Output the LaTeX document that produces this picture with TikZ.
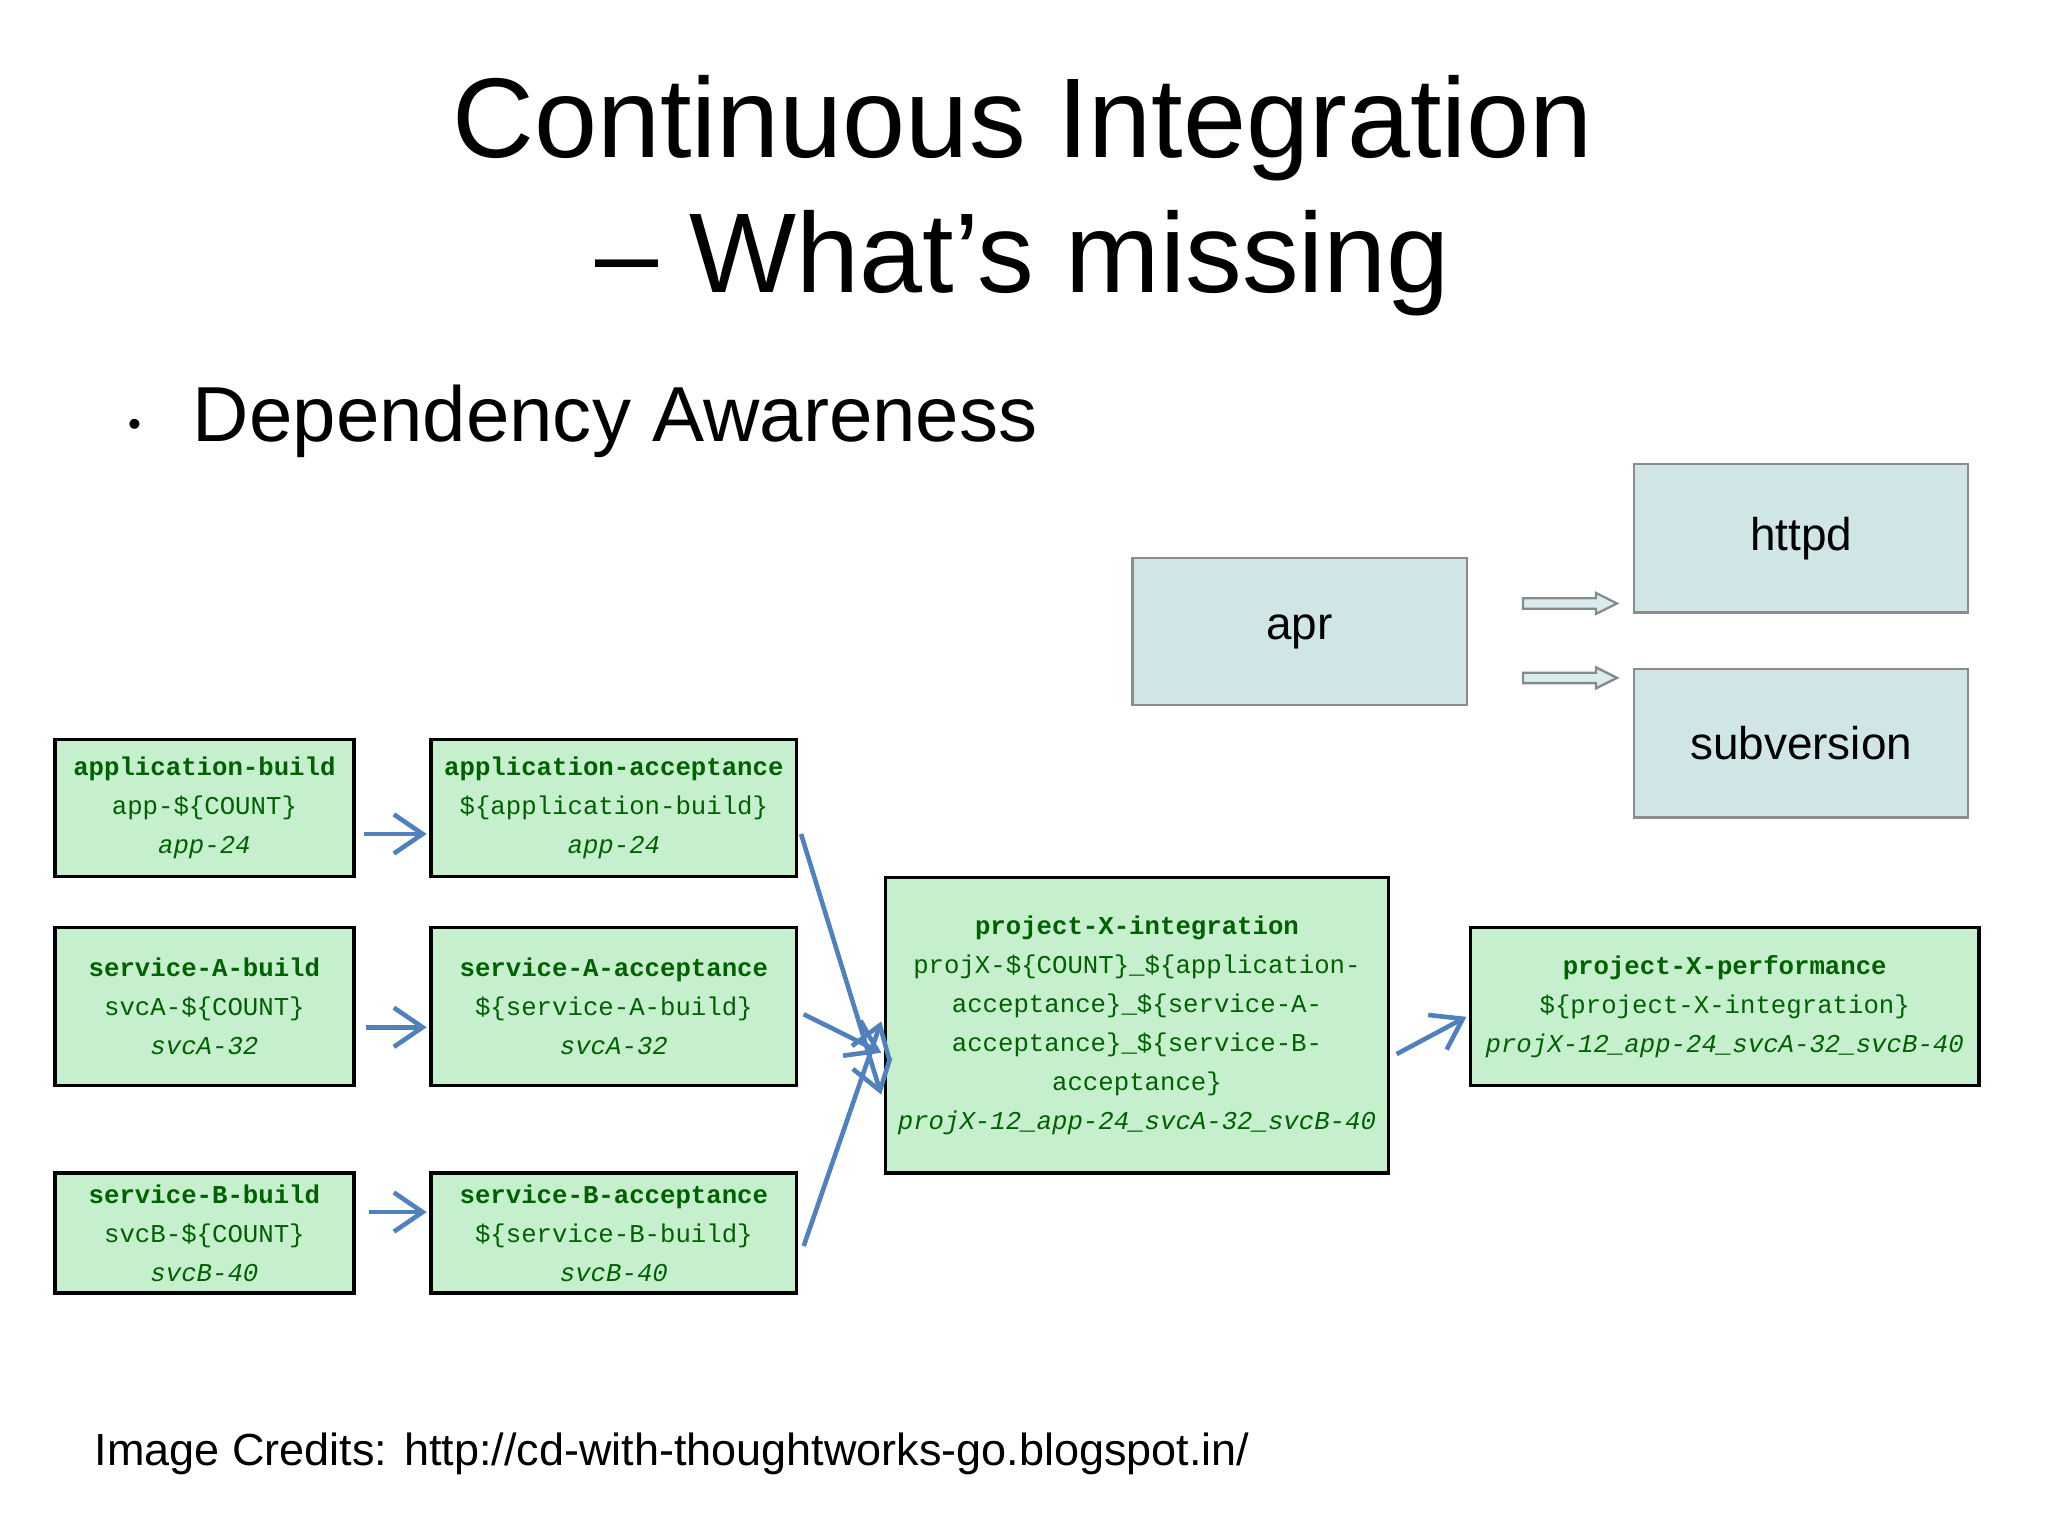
\documentclass[tikz,border=0pt]{standalone}
\usepackage{fontspec}
\setmainfont{Liberation Sans}
\setmonofont{Liberation Mono}
\begin{document}
\begin{tikzpicture}[x=0.1mm,y=-0.1mm,
  gbox/.style={draw=black,line width=0.75pt,fill=green!20!white,fill={rgb,255:red,198;green,239;blue,206},inner sep=0pt,align=center,
    text={rgb,255:red,0;green,97;blue,0},font=\ttfamily\fontsize{5.6}{8.5}\selectfont},
  bbox/.style={draw={rgb,255:red,140;green,140;blue,140},line width=0.5pt,fill={rgb,255:red,208;green,230;blue,230},inner sep=0pt,font=\fontsize{10}{12}\selectfont},
  conn/.style={draw={rgb,255:red,79;green,129;blue,189},line width=1pt,-{Straight Barb[length=2.2mm,width=3mm]}},
  blk/.style={draw={rgb,255:red,130;green,140;blue,140},fill={rgb,255:red,220;green,236;blue,236},line width=0.5pt}]
\usetikzlibrary{arrows.meta}
\path[use as bounding box,fill=white] (0,0) rectangle (1568,1176);
\node[font=\fontsize{24.7}{29.5}\selectfont,align=center] (title) at (783,150) {Continuous Integration\\– What's missing};
\node[font=\fontsize{8}{10}\selectfont] (bul) at (103,328) {•};
\node[font=\fontsize{17}{20}\selectfont,anchor=base west,inner sep=0pt] (dep) at (147,338) {Dependency Awareness};
\node[font=\fontsize{9.8}{12}\selectfont,anchor=base west,inner sep=0pt] (cred) at (72,1122) {Image Credits: http://cd-with-thoughtworks-go.blogspot.in/};
% blue boxes
\node[bbox,minimum width=25.6mm,minimum height=11.3mm] (apr) at (995,483.5) {apr};
\node[bbox,minimum width=25.6mm,minimum height=11.4mm] (httpd) at (1379,412) {httpd};
\node[bbox,minimum width=25.6mm,minimum height=11.4mm] (svn) at (1379,569) {subversion};
\foreach \yy in {462,519}{
  \draw[blk] (1166,\yy-4) -- (1222,\yy-4) -- (1222,\yy-8) -- (1238,\yy) -- (1222,\yy+8) -- (1222,\yy+4) -- (1166,\yy+4) -- cycle;}
% green boxes
\node[gbox,minimum width=22.9mm,minimum height=10.5mm] (a1) at (156.5,618.5) {\textbf{application-build}\\app-\$\{COUNT\}\\\textit{app-24}};
\node[gbox,minimum width=28mm,minimum height=10.5mm] (a2) at (470,618.5) {\textbf{application-acceptance}\\\$\{application-build\}\\\textit{app-24}};
\node[gbox,minimum width=22.9mm,minimum height=12.1mm] (b1) at (156.5,770.5) {\textbf{service-A-build}\\svcA-\$\{COUNT\}\\\textit{svcA-32}};
\node[gbox,minimum width=28mm,minimum height=12.1mm] (b2) at (470,770.5) {\textbf{service-A-acceptance}\\\$\{service-A-build\}\\\textit{svcA-32}};
\node[gbox,minimum width=22.9mm,minimum height=9.2mm] (c1) at (156.5,944) {\textbf{service-B-build}\\svcB-\$\{COUNT\}\\\textit{svcB-40}};
\node[gbox,minimum width=28mm,minimum height=9.2mm] (c2) at (470,944) {\textbf{service-B-acceptance}\\\$\{service-B-build\}\\\textit{svcB-40}};
\node[gbox,minimum width=38.5mm,minimum height=22.6mm] (p) at (870.5,785) {\textbf{project-X-integration}\\projX-\$\{COUNT\}\_\$\{application-\\acceptance\}\_\$\{service-A-\\acceptance\}\_\$\{service-B-\\acceptance\}\\\textit{projX-12\_app-24\_svcA-32\_svcB-40}};
\node[gbox,minimum width=38.9mm,minimum height=12.1mm] (q) at (1320.5,770.5) {\textbf{project-X-performance}\\\$\{project-X-integration\}\\\textit{projX-12\_app-24\_svcA-32\_svcB-40}};
% connectors
\draw[conn] ([xshift=0.6mm,yshift=-2mm]a1.east) -- ([xshift=-0.2mm,yshift=-2mm]a2.west);
\draw[conn] ([xshift=0.8mm,yshift=-1.6mm]b1.east) -- ([xshift=-0.2mm,yshift=-1.6mm]b2.west);
\draw[conn] ([xshift=1mm,yshift=1.6mm]c1.east) -- ([xshift=-0.2mm,yshift=1.6mm]c2.west);
\draw[conn] ([xshift=0.2mm,yshift=-2mm]a2.east) -- ([xshift=-0.2mm,yshift=-5.3mm]p.west);
\draw[conn] ([xshift=0.4mm,yshift=-0.6mm]b2.east) -- ([xshift=-0.2mm,yshift=-2.1mm]p.west);
\draw[conn] ([xshift=0.4mm,yshift=-1mm]c2.east) -- ([xshift=-0.2mm,yshift=0.3mm]p.west);
\draw[conn] ([xshift=0.5mm,yshift=-2.2mm]p.east) -- ([xshift=-0.2mm,yshift=-0.8mm]q.west);
\end{tikzpicture}
\end{document}
